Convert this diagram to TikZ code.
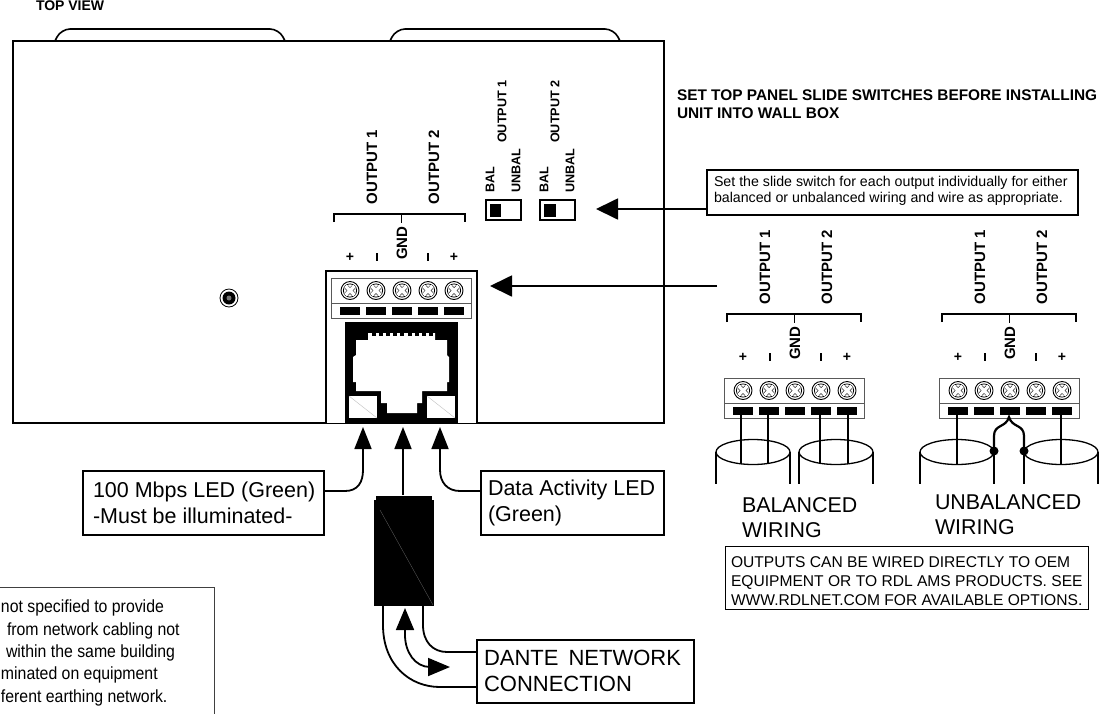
\documentclass[tikz,border=0pt]{standalone}
\usepackage{fontspec}
\setmainfont{Liberation Sans}
\newfontfamily\narrowf[FakeStretch=0.9]{Liberation Sans}
\usetikzlibrary{arrows.meta}
\tikzset{
  txt/.style={inner sep=0pt,outer sep=0pt,anchor=west,align=left},
  lbl/.style={inner sep=0pt,font=\fontsize{15}{15}\selectfont\bfseries,rotate=90},
  swl/.style={inner sep=0pt,anchor=west,font=\fontsize{12.6}{13}\selectfont\bfseries,rotate=90},
  sgn/.style={inner sep=0pt,font=\fontsize{14}{14}\selectfont\bfseries},
  big/.style={txt,font=\fontsize{21.4}{25}\selectfont},
  callout/.style={draw=black,line width=1.5pt,fill=white,inner sep=0pt},
  conn/.style={line width=1.8pt},
  head/.style={conn,-{Triangle[length=22pt,width=17pt]}},
  headw/.style={conn,-{Triangle[length=22pt,width=21pt]}},
  wire/.style={line width=2.2pt},
  notetxt/.style={txt,font=\narrowf\fontsize{17.6}{18}\selectfont},
}
\newcommand{\TermStrip}[2]{%
 \begin{scope}[shift={(#1,#2)}]
  \draw[line width=.9pt,draw=black!65,fill=white] (0,0) rectangle (140,40);
  \draw[line width=.9pt,draw=black!65] (0,25.5) -- (140,25.5);
  \foreach \i in {0,1,2,3,4}{
   \pgfmathsetmacro{\cx}{19+26*\i}
   \draw[line width=.9pt] (\cx,12.5) circle (9);
   \draw[line width=.8pt] (\cx,12.5) circle (6.6);
   \draw[line width=4.6pt,black!80] (\cx-3.6,8.9) -- (\cx+3.6,16.1) (\cx-3.6,16.1) -- (\cx+3.6,8.9);
   \draw[line width=3.2pt,white] (\cx-4.6,7.9) -- (\cx+4.6,17.1) (\cx-4.6,17.1) -- (\cx+4.6,7.9);
   \fill[black] (\cx-10,29) rectangle (\cx+10,37);
  }
 \end{scope}}
\newcommand{\OutLabels}[3]{%
 \begin{scope}[shift={(#1,#2)}]
  \node[sgn] at (19,-21) {+};
  \fill (44.8,-25) rectangle (47.2,-17);
  \node[lbl] at (71,-35) {GND};
  \fill (95.8,-25) rectangle (98.2,-17);
  \node[sgn] at (123,-21) {+};
  \draw[line width=1.4pt] (3,-56) -- (3,-64) -- (#3,-64) -- (#3,-56);
  \draw[line width=1.4pt] (70.5,-64) -- (70.5,-55);
  \node[lbl] at (41,-111) {OUTPUT 1};
  \node[lbl] at (103,-111) {OUTPUT 2};
 \end{scope}}
\newcommand{\Cyl}[2]{%
 \draw[line width=1.3pt] (#1-37,#2) arc[start angle=180,end angle=-180,x radius=37,y radius=12.5];
 \draw[line width=1.3pt] (#1-37,#2) -- (#1-37,#2+32) (#1+37,#2) -- (#1+37,#2+32);}
\begin{document}
\begin{tikzpicture}[x=1pt,y=-1pt]
\useasboundingbox (0,0) rectangle (1103,713);
\begin{scope}
\clip (0,0) rectangle (1103,713);
\node[txt,font=\fontsize{14}{14}\selectfont\bfseries] (topview) at (36,6) {TOP VIEW};
% tabs
\draw[line width=1.6pt,rounded corners=9pt] (55,41) -- (61,29) -- (279,29) -- (285,41);
\draw[line width=1.6pt,rounded corners=9pt] (390,41) -- (396,29) -- (614,29) -- (620,41);
% main housing
\draw[line width=2pt] (13,41) rectangle (664,423);
% LED hole
\fill (229,298) circle (6.5);
\draw[line width=.8pt] (229,298) circle (9);
\fill[black!55] (229,298) circle (2.5);
% connector block
\draw[line width=1.8pt,fill=white] (326,423) -- (326,271) -- (477,271) -- (477,423);
\TermStrip{331}{278}
\OutLabels{331}{278}{134}
% RJ45
\fill (345,322) rectangle (458,423);
\fill[white] (368,333) -- (368,340) -- (356,340) -- (356,355) -- (353,357) -- (353,382) -- (356,382) -- (356,391) -- (381,391) -- (381,403) -- (387,403) -- (387,413) -- (417,413) -- (417,403) -- (422,403) -- (422,391) -- (447,391) -- (447,382) -- (449,382) -- (449,357) -- (447,355) -- (447,340) -- (435,340) -- (435,333) -- cycle;
\foreach \i in {0,...,8}{\fill (371.5+7.2*\i,331) rectangle (375.5+7.2*\i,336);}
\fill[white] (349,396) rectangle (377,418);
\fill[white] (427,396) rectangle (455,418);
\draw[black!25,line width=.4pt] (349,396) -- (377,418) (427,396) -- (455,418);
% switches
\node[swl] at (490,193) {BAL};
\node[swl] at (516,193) {UNBAL};
\node[swl] at (502,143) {OUTPUT 1};
\node[swl] at (544,193) {BAL};
\node[swl] at (570,193) {UNBAL};
\node[swl] at (555,143) {OUTPUT 2};
\draw[line width=1.3pt] (486,200) rectangle (521,220);
\fill (489.5,204) rectangle (501,216.5);
\draw[line width=1.3pt] (540,200) rectangle (575,220);
\fill (544,204) rectangle (555.5,216.5);
% set note
\node[txt,font=\fontsize{15.4}{18}\selectfont\bfseries] (setnote) at (677,104) {SET TOP PANEL SLIDE SWITCHES BEFORE INSTALLING\\UNIT INTO WALL BOX};
% slide switch callout
\node[callout,minimum width=371pt,minimum height=45pt,anchor=north west] (slidebox) at (706,169) {};
\node[txt,font=\fontsize{14.2}{16.5}\selectfont] (slidetxt) at (714,191) {Set the slide switch for each output individually for either\\balanced or unbalanced wiring and wire as appropriate.};
\coordinate (swtip) at (596,209);
\draw[headw] (slidebox.west|-swtip) -- (swtip);
% strips
\coordinate (strtip) at (490,286);
\coordinate (strend) at (717,286);
\draw[headw] (strend) -- (strtip);
\TermStrip{724}{378}
\OutLabels{724}{378}{137}
\TermStrip{939}{378}
\OutLabels{939}{378}{137}
% balanced wiring
\Cyl{753}{452}
\Cyl{836}{452}
\draw[wire] (741,415) -- (741,464) (768,415) -- (768,464) (820,415) -- (820,464) (848,415) -- (848,464);
% unbalanced wiring
\Cyl{957}{452}
\Cyl{1061}{452}
\draw[wire] (957,415) -- (957,464) (1061,415) -- (1061,464);
\draw[wire] (994,451) -- (994,436) .. controls (994,424) and (1006,428) .. (1009,417) .. controls (1012,428) and (1024,424) .. (1024,436) -- (1024,451);
\fill (994,451) circle (4.5) (1024,451) circle (4.5);
\node[big] (balanced) at (742,518) {BALANCED\\WIRING};
\node[big] (unbalanced) at (935,515) {UNBALANCED\\WIRING};
\node[callout,line width=1.2pt,minimum width=363pt,minimum height=63pt,anchor=north west] (oembox) at (725,546) {};
\node[txt,font=\fontsize{15.6}{19.3}\selectfont] (oemtxt) at (731,581) {OUTPUTS CAN BE WIRED DIRECTLY TO OEM\\EQUIPMENT OR TO RDL AMS PRODUCTS. SEE\\WWW.RDLNET.COM FOR AVAILABLE OPTIONS.};
% LED callouts
\node[callout,minimum width=241pt,minimum height=64pt,anchor=north west] (mbps) at (82,470) {};
\node[txt,font=\fontsize{21.5}{26}\selectfont] (mbpstxt) at (93,503) {100 Mbps LED (Green)\\-Must be illuminated-};
\node[callout,minimum width=183pt,minimum height=64pt,anchor=north west] (data) at (480,470) {};
\node[txt,font=\fontsize{21.5}{26}\selectfont] (datatxt) at (488,503) {Data Activity LED\\(Green)};
\coordinate (mbpsa) at (323,491);
\coordinate (mbpstip) at (363,427);
\coordinate (dataa) at (480,491);
\coordinate (datatip) at (440,427);
\draw[head] (mbpsa) -- (345,491) .. controls (358,491) and (363,482) .. (363,470) -- (mbpstip);
\draw[head] (dataa) -- (460,491) .. controls (447,491) and (440,482) .. (440,470) -- (datatip);
% plug
\fill (376,496) rectangle (432,501);
\fill (374,500) rectangle (434,606);
\draw[black!60,line width=.3pt] (380,510) -- (433,605);
\coordinate (plugtop) at (403,495);
\coordinate (plugtip) at (403,427);
\draw[head] (plugtop) -- (plugtip);
% dante
\node[callout,minimum width=217pt,minimum height=63pt,anchor=north west] (dante) at (476,639) {};
\node[txt,font=\fontsize{22}{26}\selectfont] (dantetxt) at (484,671) {DANTE\hspace{10pt}NETWORK\\CONNECTION};
\coordinate (cabA) at (383,606);
\coordinate (cabB) at (423,606);
\coordinate (danteA) at (476,687);
\coordinate (danteB) at (476,652);
\draw[conn] (cabA) -- (383,625) .. controls (383,665) and (410,687) .. (440,687) -- (danteA);
\draw[conn] (cabB) -- (423,625) .. controls (423,642) and (433,652) .. (447,652) -- (danteB);
\coordinate (flowA) at (405,608);
\coordinate (flowB) at (450,667);
\draw[conn,{Triangle[length=22pt,width=18pt]}-{Triangle[length=22pt,width=18pt]}] (flowA) -- (405,635) .. controls (405,652) and (415,667) .. (430,667) -- (flowB);
% footnote
\draw[line width=.8pt,draw=black!75] (-5,587) -- (214.5,587) -- (214.5,720);
\node[notetxt] (n1) at (1,608) {not specified to provide};
\node[notetxt] (n2) at (7,631) {from network cabling not};
\node[notetxt] (n3) at (6,653) {within the same building};
\node[notetxt] (n4) at (1,675) {minated on equipment};
\node[notetxt] (n5) at (1,698) {ferent earthing network.};
\end{scope}
\end{tikzpicture}
\end{document}
